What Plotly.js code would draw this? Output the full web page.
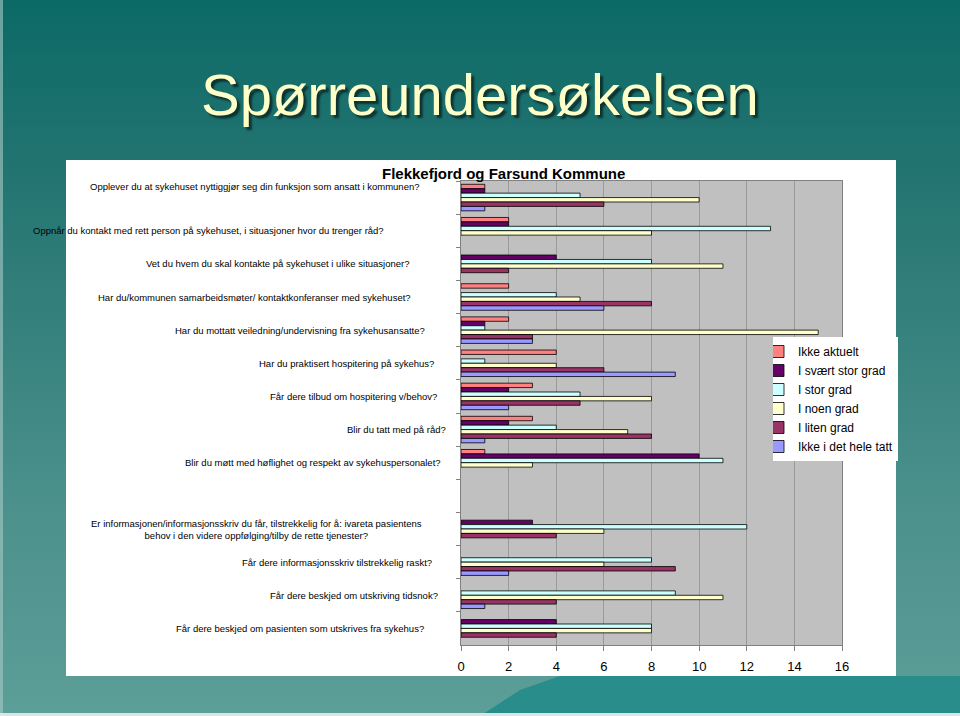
<!DOCTYPE html>
<html>
<head>
<meta charset="utf-8">
<script src="https://cdn.plot.ly/plotly-3.0.1.min.js"></script>
<style>
html, body { margin:0; padding:0; width:960px; height:716px; overflow:hidden; }
body {
  position:relative;
  background: linear-gradient(to bottom, #0b6a66 0%, #1f726f 20%, #3a8480 50%, #4f938e 75%, #5c9e98 100%);
  font-family: "Liberation Sans", Arial, sans-serif;
}
#edgeL { position:absolute; left:0; top:0; width:3px; height:716px; background:#a9c9c6; opacity:0.6; }
#edgeB { position:absolute; left:0; top:713px; width:960px; height:3px; background:#d8e6e4; }
#berg { position:absolute; left:0; top:0; width:960px; height:716px;
  background: linear-gradient(to bottom, #2f9795, #1f8a88);
  clip-path: polygon(480px 716px, 520px 690px, 560px 676px, 960px 676px, 960px 713px, 480px 713px); opacity:0.85; }
#box { position:absolute; left:66px; top:160px; width:830px; height:516px; background:#ffffff; }
#chart { position:absolute; left:0; top:0; width:960px; height:716px; }
</style>
</head>
<body>
<div id="berg"></div>
<div id="edgeL"></div>
<div id="edgeB"></div>
<div id="box"></div>
<div id="chart"></div>
<script>
// ---- data ----
const questions = [
  "Opplever du at sykehuset nyttiggjør seg din funksjon som ansatt i kommunen?",
  "Oppnår du kontakt med rett person på sykehuset, i situasjoner hvor du trenger råd?",
  "Vet du hvem du skal kontakte på sykehuset i ulike situasjoner?",
  "Har du/kommunen samarbeidsmøter/ kontaktkonferanser med sykehuset?",
  "Har du mottatt veiledning/undervisning fra sykehusansatte?",
  "Har du praktisert hospitering på sykehus?",
  "Får dere tilbud om hospitering v/behov?",
  "Blir du tatt med på råd?",
  "Blir du møtt med høflighet og respekt av sykehuspersonalet?",
  " ",
  "Er informasjonen/informasjonsskriv du får, tilstrekkelig for å: ivareta pasientens<br>behov i den videre oppfølging/tilby de rette tjenester?",
  "Får dere informasjonsskriv tilstrekkelig raskt?",
  "Får dere beskjed om utskriving tidsnok?",
  "Får dere beskjed om pasienten som utskrives fra sykehus?"
];
const seriesNames = ["Ikke aktuelt", "I svært stor grad", "I stor grad", "I noen grad", "I liten grad", "Ikke i det hele tatt"];
const ikkeAktuelt      = [1, 2, 0, 2, 2, 4, 3, 3, 1, 0, 0, 0, 0, 0];
const iSvaertStorGrad  = [1, 2, 4, 0, 1, 0, 2, 2, 10, 0, 3, 0, 0, 4];
const iStorGrad        = [5, 13, 8, 4, 1, 1, 5, 4, 11, 0, 12, 8, 9, 8];
const iNoenGrad        = [10, 8, 11, 5, 15, 4, 8, 7, 3, 0, 6, 6, 11, 8];
const iLitenGrad       = [6, 0, 2, 8, 3, 6, 5, 8, 0, 0, 4, 9, 4, 4];
const ikkeIDetHeleTatt = [1, 0, 0, 6, 3, 9, 2, 1, 0, 0, 0, 2, 1, 0];
const xTickVals = [0, 2, 4, 6, 8, 10, 12, 14, 16];

// ---- styles / layout positions ----
const seriesColors = ["#FF8080", "#660066", "#CCFFFF", "#FFFFCC", "#993366", "#9999FF"];
const allSeries = [ikkeAktuelt, iSvaertStorGrad, iStorGrad, iNoenGrad, iLitenGrad, ikkeIDetHeleTatt];
const labelCenterPx = [255, 208, 278, 254, 300, 346, 353, 396, 313, null, 256, 337, 354, 300];
const labelShift = [11, 0, 0, 0, 0, 0, 0, 0, 0, 0, 0, 0, 0, 0];

const M = { l: 461, r: 118, t: 181, b: 71 };
const W = 960, H = 716;
const pw = W - M.l - M.r, ph = H - M.t - M.b;
const px = x => (x - M.l) / pw;
const py = y => (H - M.b - y) / ph;

const traces = seriesNames.map((name, i) => ({
  type: 'bar',
  orientation: 'h',
  name: name,
  y: questions,
  x: allSeries[i].map(v => v === 0 ? null : v),
  marker: { color: seriesColors[i], line: { color: '#000000', width: 0.8 } },
  hoverinfo: 'x+name'
}));

const annotations = [];
questions.forEach((q, i) => {
  if (labelCenterPx[i] === null) return;
  annotations.push({
    xref: 'paper', yref: 'y', x: px(labelCenterPx[i]), y: q,
    xanchor: 'center', yanchor: 'middle', yshift: labelShift[i],
    text: q, showarrow: false, align: 'center',
    font: { family: 'Liberation Sans, Arial, sans-serif', size: 9.5, color: '#000000' }
  });
});
annotations.push({
  xref: 'paper', yref: 'paper', x: px(503), y: py(173), xanchor: 'center', yanchor: 'middle',
  text: '<b>Flekkefjord og Farsund Kommune</b>', showarrow: false,
  font: { family: 'Liberation Sans, Arial, sans-serif', size: 15, color: '#000000' }
});
annotations.push({
  xref: 'paper', yref: 'paper', x: px(480), y: py(94), xanchor: 'center', yanchor: 'middle',
  text: 'Spørreundersøkelsen', showarrow: false,
  font: { family: 'Liberation Sans, Arial, sans-serif', size: 58, color: '#FFFFC8',
          shadow: '3px 3px 2px rgba(10,40,40,0.85)' }
});

const layout = {
  width: W, height: H,
  margin: M,
  paper_bgcolor: 'rgba(0,0,0,0)',
  plot_bgcolor: '#C0C0C0',
  barmode: 'group', bargap: 0.2, bargroupgap: 0,
  showlegend: true,
  legend: {
    x: px(773), xanchor: 'left', y: py(337), yanchor: 'top',
    bgcolor: '#FFFFFF', borderwidth: 0, traceorder: 'normal',
    indentation: -15,
    font: { family: 'Liberation Sans, Arial, sans-serif', size: 12, color: '#000000' }
  },
  xaxis: {
    range: [0, 16], tickvals: xTickVals, ticktext: xTickVals.map(String),
    showgrid: true, gridcolor: '#9A9A9A', gridwidth: 1, zeroline: false,
    showline: true, linecolor: '#808080', linewidth: 1, mirror: true,
    ticks: 'outside', ticklen: 5, tickcolor: '#808080', ticklabelstandoff: 4,
    tickfont: { family: 'Liberation Sans, Arial, sans-serif', size: 13, color: '#000000' }
  },
  yaxis: {
    type: 'category', categoryorder: 'array', categoryarray: questions,
    autorange: 'reversed', showticklabels: false, showgrid: false, zeroline: false,
    showline: true, linecolor: '#808080', linewidth: 1, mirror: true,
    ticks: 'outside', tickson: 'boundaries', ticklen: 4, tickcolor: '#808080'
  },
  annotations: annotations
};

Plotly.newPlot('chart', traces, layout, { displayModeBar: false, staticPlot: true });
</script>
</body>
</html>
